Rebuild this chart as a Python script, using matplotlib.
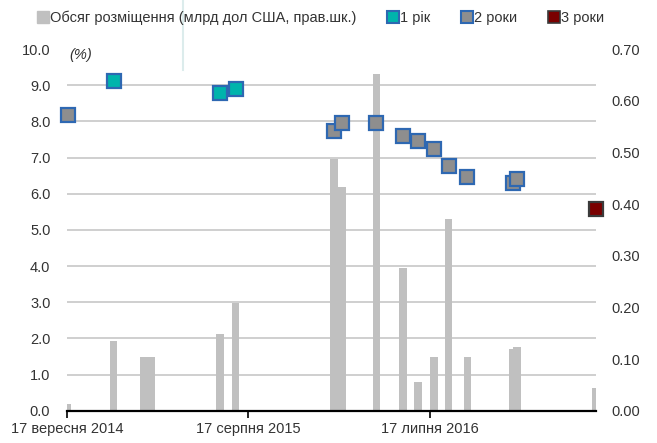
import datetime as dt
import matplotlib
matplotlib.use('Agg')
import matplotlib.pyplot as plt
from matplotlib.lines import Line2D
import numpy as np

plt.rcParams['font.family'] = ['Liberation Sans', 'DejaVu Sans']

# дані
bar_dates = ['2014-09-17', '2014-12-12', '2015-02-06', '2015-02-19', '2015-06-26',
             '2015-07-25', '2016-01-23', '2016-02-06', '2016-04-10', '2016-05-29',
             '2016-06-26', '2016-07-25', '2016-08-21', '2016-09-25', '2016-12-18',
             '2016-12-25', '2017-05-20']
bar_values = [0.012, 0.135, 0.104, 0.104, 0.148, 0.208, 0.487, 0.433, 0.652, 0.276,
              0.055, 0.104, 0.372, 0.104, 0.119, 0.123, 0.043]

y1_dates = ['2014-12-12', '2015-06-26', '2015-07-25']
y1_rates = [9.12, 8.78, 8.90]

y2_dates = ['2014-09-19', '2016-01-23', '2016-02-06', '2016-04-10', '2016-05-29',
            '2016-06-26', '2016-07-25', '2016-08-21', '2016-09-25', '2016-12-18',
            '2016-12-25']
y2_rates = [8.19, 7.75, 7.96, 7.96, 7.61, 7.47, 7.23, 6.76, 6.46, 6.30, 6.42]

y3_dates = ['2017-05-20']
y3_rates = [5.57]

tick_dates = ['2014-09-17', '2015-08-17', '2016-07-17']
tick_labels = ['17 вересня 2014', '17 серпня 2015', '17 липня 2016']

legend_labels = ['Обсяг розміщення (млрд дол США, прав.шк.)', '1 рік', '2 роки', '3 роки']


def d(lst):
    return [dt.datetime.strptime(s, '%Y-%m-%d') for s in lst]


txt = '#333333'
fs = 10.5
fig = plt.figure(figsize=(6.57, 4.43), dpi=100)
ax = fig.add_axes([0.102, 0.073, 0.805, 0.816])
ax2 = ax.twinx()
ax.set_zorder(2)
ax2.set_zorder(1)
ax.patch.set_visible(False)

# стовпці (права шкала)
ax2.bar(d(bar_dates), bar_values, width=14, color='#c0c0c0', zorder=2)
ax2.set_ylim(0, 0.70)
ax2.set_yticks(np.arange(0, 0.71, 0.1))
ax2.set_yticklabels(['%.2f' % v for v in np.arange(0, 0.71, 0.1)])
ax2.set_yticks(np.arange(0.07, 0.71, 0.07), minor=True)
ax2.grid(which='minor', axis='y', color='#cccccc', lw=1.3, zorder=0)
ax2.tick_params(axis='y', which='both', length=0, labelsize=fs, labelcolor=txt, pad=11)

# ставки (ліва шкала)
mk = dict(marker='s', ms=10, ls='none', mew=1.6, clip_on=False, zorder=5)
ax.plot(d(y1_dates), y1_rates, mfc='#00b4ac', mec='#2e68b2', **mk)
ax.plot(d(y2_dates), y2_rates, mfc='#8e8e8e', mec='#2e68b2', **mk)
ax.plot(d(y3_dates), y3_rates, mfc='#7a0000', mec='#3a3a3a', **mk)
ax.set_ylim(0, 10)
ax.set_yticks(np.arange(0, 10.1, 1))
ax.set_yticklabels(['%.1f' % v for v in np.arange(0, 10.1, 1)])
ax.tick_params(axis='y', length=0, labelsize=fs, labelcolor=txt, pad=12)

ax.set_xlim(dt.datetime(2014, 9, 17), dt.datetime(2017, 5, 20))
ax.set_xticks(d(tick_dates))
ax.set_xticklabels(tick_labels)
ax.tick_params(axis='x', direction='out', length=5, width=1.2, color='black',
               labelsize=fs, labelcolor=txt, pad=3)

for a in (ax, ax2):
    for s in ('left', 'right', 'top'):
        a.spines[s].set_visible(False)
ax2.spines['bottom'].set_visible(False)
ax.spines['bottom'].set_linewidth(1.6)
ax.spines['bottom'].set_color('black')

ax.text(0.005, 0.985, '(%)', transform=ax.transAxes, fontsize=fs, style='italic',
        color=txt, va='center', ha='left')

# легенда
handles = [
    Line2D([], [], marker='s', ls='none', ms=8, mfc='#c0c0c0', mec='#c0c0c0'),
    Line2D([], [], marker='s', ls='none', ms=8, mfc='#00b4ac', mec='#2e68b2', mew=1.5),
    Line2D([], [], marker='s', ls='none', ms=8, mfc='#8e8e8e', mec='#2e68b2', mew=1.5),
    Line2D([], [], marker='s', ls='none', ms=8, mfc='#7a0000', mec='#3a3a3a', mew=1.2),
]
fig.legend(handles, legend_labels, loc='center', bbox_to_anchor=(0.487, 0.96), ncol=4,
           frameon=False, fontsize=fs, handletextpad=0.0, columnspacing=2.0,
           handlelength=1.0, labelcolor=txt)

# тонка вертикальна лінія вгорі
fig.add_artist(Line2D([183 / 657, 183 / 657], [1 - 70 / 443, 1.0], color='#dcecec', lw=1.5))

fig.savefig('out.png', dpi=100)
